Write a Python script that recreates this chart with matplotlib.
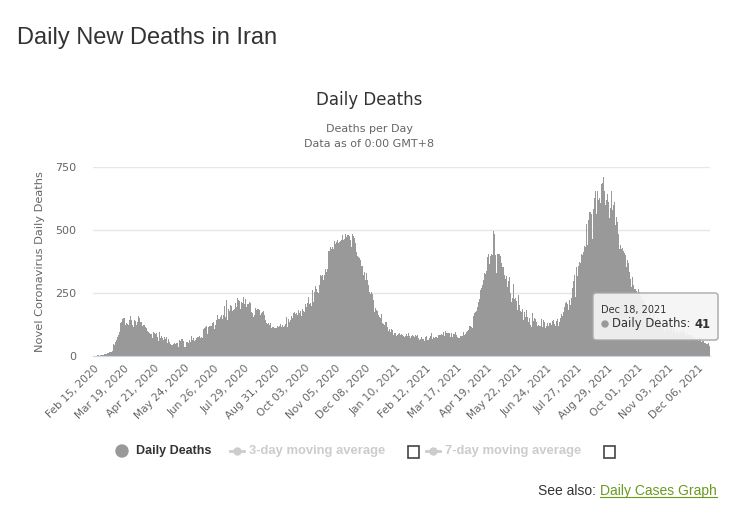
import numpy as np
import pandas as pd
import matplotlib
matplotlib.use("Agg")
import matplotlib.pyplot as plt
from matplotlib.patches import FancyBboxPatch, Rectangle, Circle
from matplotlib.lines import Line2D

# daily deaths in Iran, one value per day from Feb 15, 2020
start_date = "2020-02-15"
deaths_2020 = [
    # Feb 15-29
    0, 0, 0, 0, 2, 0, 2, 1, 3, 4, 4, 3, 7, 8, 9,
    # Mar
    11, 12, 11, 15, 15, 16, 21, 49, 43, 54, 63, 75, 85, 97, 113, 129, 135, 147, 149, 149,
    123, 129, 127, 122, 143, 157, 144, 139, 123, 117, 141,
    # Apr
    138, 124, 134, 158, 151, 136, 133, 121, 117, 122, 125, 117, 111, 98, 94, 92, 89, 87, 73, 88,
    94, 90, 87, 90, 76, 60, 96, 71, 80, 71,
    # May
    63, 74, 47, 68, 74, 51, 68, 55, 48, 45, 45, 48, 51, 35, 48, 50, 51, 35, 62, 59,
    66, 69, 58, 34, 34, 35, 57, 56, 50, 63, 57,
    # Jun
    81, 64, 70, 59, 63, 72, 70, 75, 74, 81, 71, 75, 71, 107, 113, 115, 120, 87, 115, 116,
    119, 121, 119, 129, 133, 109, 125, 144, 162, 147,
    # Jul
    147, 148, 154, 163, 148, 163, 200, 153, 221, 142, 188, 179, 194, 203, 198, 179, 183, 188, 209, 196,
    229, 221, 219, 188, 195, 216, 212, 235, 208, 226, 196,
    # Aug
    206, 208, 215, 212, 174, 172, 172, 156, 161, 189, 184, 185, 187, 182, 164, 169, 173, 180, 153, 163,
    143, 131, 128, 130, 125, 130, 113, 117, 116, 110, 103,
    # Sep
    112, 113, 119, 116, 119, 126, 115, 123, 116, 119, 126, 138, 156, 116, 145, 134, 143, 158, 152, 169,
    175, 165, 171, 178, 164, 184, 172, 178, 160, 187,
    # Oct
    180, 174, 208, 195, 210, 227, 235, 207, 212, 200, 263, 213, 254, 279, 267, 253, 251, 272, 280, 322,
    317, 321, 303, 320, 346, 335, 346, 415, 415, 434, 434,
    # Nov
    425, 431, 426, 455, 444, 453, 459, 450, 453, 457, 457, 462, 482, 461, 463, 486, 474, 480, 479, 475,
    462, 431, 469, 483, 475, 469, 449, 413, 398, 392,
    # Dec
    387, 381, 358, 356, 351, 321, 332, 300, 328, 300, 283, 255, 245, 252, 247, 221, 209, 175, 190, 181,
    177, 164, 154, 149, 166, 129, 126, 124, 131, 134, 136,
]
deaths_2021 = [
    # Jan
    115, 99, 106, 96, 107, 104, 83, 91, 90, 86, 79, 82, 87, 91, 84, 88, 85, 80, 76, 80,
    86, 89, 78, 90, 81, 72, 78, 82, 80, 75, 85,
    # Feb
    78, 83, 85, 72, 64, 68, 77, 68, 66, 60, 77, 78, 63, 62, 67, 70, 80, 90, 68, 75,
    73, 75, 77, 72, 84, 84, 80, 84,
    # Mar
    87, 84, 97, 78, 98, 91, 90, 92, 91, 76, 85, 91, 74, 89, 86, 95, 84, 76, 70, 72,
    78, 79, 84, 79, 96, 84, 86, 95, 101, 103, 118,
    # Apr
    121, 114, 112, 131, 159, 171, 173, 180, 193, 213, 225, 263, 269, 283, 300, 322, 330, 326, 339, 391,
    405, 367, 396, 404, 400, 496, 483, 407, 399, 330,
    # May
    403, 405, 406, 395, 368, 355, 354, 321, 307, 276, 316, 275, 296, 314, 251, 213, 230, 285, 225, 229,
    219, 201, 184, 241, 203, 178, 174, 188, 143, 176, 154,
    # Jun
    181, 153, 163, 135, 151, 124, 115, 172, 140, 151, 146, 134, 118, 124, 117, 119, 120, 145, 115, 141,
    134, 112, 118, 131, 121, 130, 130, 130, 123, 140,
    # Jul
    143, 126, 120, 139, 146, 119, 136, 151, 168, 158, 158, 175, 193, 212, 213, 207, 183, 224, 202, 230,
    235, 269, 296, 322, 233, 352, 317, 357, 373, 370, 406,
    # Aug
    399, 411, 370, 435, 434, 525, 442, 538, 570, 573, 564, 466, 582, 599, 626, 655, 564, 655, 619, 628,
    608, 684, 686, 709, 655, 600, 589, 619, 641, 611, 546,
    # Sep
    589, 654, 578, 599, 610, 520, 550, 518, 532, 484, 424, 439, 426, 430, 418, 408, 400, 353, 380, 358,
    370, 333, 305, 272, 315, 282, 265, 266, 256, 251,
    # Oct
    230, 266, 253, 241, 222, 224, 223, 206, 188, 192, 184, 164, 181, 170, 187, 144, 152, 173, 143, 135,
    129, 155, 135, 146, 122, 128, 110, 122, 118, 102, 98,
    # Nov
    110, 121, 104, 116, 106, 120, 109, 96, 110, 102, 87, 98, 99, 88, 96, 100, 91, 100, 103, 105,
    91, 87, 80, 90, 83, 82, 83, 84, 72, 68,
    # Dec 1-18
    79, 77, 68, 64, 70, 58, 74, 63, 57, 59, 60, 52, 50, 52, 49, 46, 51, 41,
]
yticks = [0, 250, 500, 750]
tick_step = 33
legend_items = ["Daily Deaths", "3-day moving average", "7-day moving average"]

daily_deaths = deaths_2020 + deaths_2021
dates = pd.date_range(start_date, periods=len(daily_deaths), freq="D")

W, H = 741, 519
fig = plt.figure(figsize=(W / 100, H / 100), dpi=100)


def fx(px):
    return px / W


def fy(py):
    return 1 - py / H


BAR = "#999999"
ax = fig.add_axes([fx(93), fy(356), (710 - 93) / W, (356 - 167) / H])
x = np.arange(len(daily_deaths))
ax.bar(x, daily_deaths, width=1.05, color=BAR, linewidth=0)
ax.set_xlim(-0.5, len(daily_deaths) - 0.5)
ax.set_ylim(0, 750)
ax.set_yticks(yticks)
ax.yaxis.grid(True, color="#e6e6e6", lw=1)
ax.set_axisbelow(True)
for s in ["top", "right", "left"]:
    ax.spines[s].set_visible(False)
ax.spines["bottom"].set_color("#ccd6eb")
ax.tick_params(axis="y", length=0, pad=12, labelsize=8, labelcolor="#666666")
tick_pos = x[::tick_step]
ax.set_xticks(tick_pos)
ax.set_xticklabels([d.strftime("%b %d, %Y") for d in dates[::tick_step]],
                   rotation=45, ha="right", rotation_mode="anchor")
ax.tick_params(axis="x", length=0, pad=5, labelsize=7.7, labelcolor="#666666")

# titles
fig.text(fx(17), fy(38), "Daily New Deaths in Iran", fontsize=17, color="#333333",
         family="Liberation Sans", ha="left", va="center")
fig.text(fx(369), fy(100), "Daily Deaths", fontsize=12, color="#333333", ha="center", va="center")
fig.text(fx(369), fy(129), "Deaths per Day", fontsize=8, color="#666666", ha="center", va="center")
fig.text(fx(369), fy(144), "Data as of 0:00 GMT+8", fontsize=8, color="#666666", ha="center", va="center")
fig.text(fx(40), fy(262), "Novel Coronavirus Daily Deaths", fontsize=8.2, color="#666666",
         rotation=90, ha="center", va="center")

# legend
lfont = dict(family=["Liberation Sans Narrow", "Liberation Sans"], weight="bold", fontsize=9)
ly = fy(451)
fig.patches.append(Circle((122, 519 - 451), 6, transform=None, color=BAR))
fig.text(fx(136), ly, legend_items[0], color="#333333", ha="left", va="center", **lfont)
for x0, bx in [(230, 408), (426, 604)]:
    fig.lines.append(Line2D([fx(x0), fx(x0 + 14)], [ly, ly], transform=fig.transFigure,
                            color="#cccccc", lw=2))
    fig.lines.append(Line2D([fx(x0 + 7)], [ly], transform=fig.transFigure, color="#cccccc",
                            marker="o", markersize=5, lw=0))
    fig.patches.append(Rectangle((bx, 519 - 458), 11, 12, transform=None, fill=False,
                                 edgecolor="#444444", lw=1.2))
grey_font = dict(lfont, fontsize=9.4)
fig.text(fx(249), ly, legend_items[1], color="#cccccc", ha="left", va="center", **grey_font)
fig.text(fx(445), ly, legend_items[2], color="#cccccc", ha="left", va="center", **grey_font)

# tooltip
fig.patches.append(FancyBboxPatch((594, 519 - 341), 125, 47, boxstyle="round,pad=0,rounding_size=3",
                                  transform=None, facecolor="#000000", alpha=0.08, lw=0))
fig.patches.append(FancyBboxPatch((593, 519 - 340), 125, 47, boxstyle="round,pad=0,rounding_size=3",
                                  transform=None, facecolor=(0.969, 0.969, 0.969, 0.9),
                                  edgecolor="#aaaaaa", lw=1))
fig.text(fx(601), fy(310), dates[-1].strftime("%b %d, %Y"), fontsize=7, color="#333333",
         ha="left", va="center")
fig.patches.append(Circle((605, 519 - 324), 3, transform=None, color=BAR))
t1 = fig.text(fx(612), fy(324), "Daily Deaths: ", fontsize=8.4, color="#333333",
              ha="left", va="center")

# see also link
t2 = fig.text(fx(538), fy(491), "See also: ", fontsize=10, color="#333333",
              family="Liberation Sans", ha="left", va="center")

fig.canvas.draw()
r = fig.canvas.get_renderer()
e1 = t1.get_window_extent(r)
fig.text(e1.x1 / W, fy(324), str(daily_deaths[-1]), fontsize=8.4, weight="bold",
         color="#333333", ha="left", va="center")
e2 = t2.get_window_extent(r)
t3 = fig.text(e2.x1 / W, fy(491), "Daily Cases Graph", fontsize=10, color="#6b9a1f",
              family="Liberation Sans", ha="left", va="center")
fig.canvas.draw()
e3 = t3.get_window_extent(r)
fig.lines.append(Line2D([e3.x0 / W, e3.x1 / W], [(e3.y0 + 1) / H] * 2,
                        transform=fig.transFigure, color="#6b9a1f", lw=0.8))

fig.savefig("out.png", dpi=100)
